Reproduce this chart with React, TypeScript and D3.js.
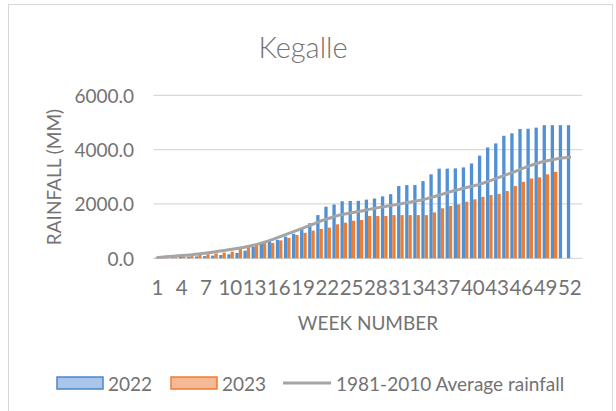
import React, { useEffect, useRef } from "react";
import * as d3 from "d3";

// week categories (Excel keeps an empty 53rd slot)
const weeks = [
  1, 2, 3, 4, 5, 6, 7, 8, 9, 10, 11, 12, 13, 14, 15, 16, 17, 18, 19, 20, 21, 22, 23, 24, 25, 26,
  27, 28, 29, 30, 31, 32, 33, 34, 35, 36, 37, 38, 39, 40, 41, 42, 43, 44, 45, 46, 47, 48, 49, 50,
  51, 52, 53,
];

// cumulative rainfall (mm), 2022
const rain2022 = [
  20, 30, 40, 50, 60, 70, 80, 100, 120, 150, 200, 280, 420, 540, 650, 680, 800, 900, 1070, 1290,
  1590, 1900, 1980, 2100, 2110, 2115, 2160, 2200, 2280, 2360, 2660, 2695, 2695, 2840, 3090, 3300,
  3300, 3310, 3345, 3490, 3780, 4080, 4230, 4510, 4600, 4760, 4770, 4810, 4900, 4900, 4900, 4900,
];

// cumulative rainfall (mm), 2023 (up to week 50)
const rain2023 = [
  10, 20, 40, 60, 80, 120, 150, 180, 210, 245, 370, 430, 520, 560, 570, 660, 750, 860, 940, 1020,
  1080, 1130, 1250, 1310, 1380, 1410, 1555, 1555, 1555, 1590, 1590, 1590, 1590, 1590, 1690, 1840,
  1925, 1985, 2080, 2170, 2260, 2330, 2365, 2475, 2660, 2815, 2940, 2980, 3090, 3185,
];

// 1981-2010 average, cumulative
const avgRainfall = [
  30, 55, 80, 100, 125, 160, 195, 235, 280, 320, 370, 425, 490, 575, 670, 780, 890, 1000, 1110,
  1230, 1350, 1450, 1550, 1620, 1680, 1730, 1790, 1850, 1900, 1950, 2000, 2060, 2110, 2170, 2250,
  2340, 2430, 2510, 2590, 2660, 2740, 2840, 2950, 3060, 3170, 3290, 3400, 3500, 3580, 3640, 3690,
  3720,
];

const yTicks = [0, 2000, 4000, 6000];
const xTickWeeks = [1, 4, 7, 10, 13, 16, 19, 22, 25, 28, 31, 34, 37, 40, 43, 46, 49, 52];

const FONT = "Lato, 'Open Sans', sans-serif";
const TEXT = "#737373";

const App = () => {
  const svgRef = useRef<SVGSVGElement | null>(null);

  useEffect(() => {
    const width = 616;
    const height = 411;

    const svg = d3.select(svgRef.current);
    svg.selectAll("*").remove();
    svg.attr("width", width).attr("height", height);

    svg.append("rect").attr("width", width).attr("height", height).attr("fill", "#fff");

    // chart frame
    svg
      .append("rect")
      .attr("x", 8.5)
      .attr("y", 4.5)
      .attr("width", 604)
      .attr("height", 420)
      .attr("fill", "none")
      .attr("stroke", "#d9d9d9")
      .attr("stroke-width", 1);

    const x = d3.scaleBand<number>().domain(weeks).range([153.5, 582]).padding(0);
    const y = d3.scaleLinear().domain([0, 6000]).range([258.3, 95.3]);
    const bw = 3.3;

    // title
    svg
      .append("text")
      .attr("x", 303)
      .attr("y", 46)
      .attr("text-anchor", "middle")
      .attr("dominant-baseline", "central")
      .attr("font-family", FONT)
      .attr("font-size", 29)
      .attr("font-weight", 300)
      .attr("fill", TEXT)
      .text("Kegalle");

    // gridlines + y labels
    yTicks.forEach((t) => {
      svg
        .append("line")
        .attr("x1", 153.5)
        .attr("x2", 582)
        .attr("y1", y(t))
        .attr("y2", y(t))
        .attr("stroke", "#d9d9d9")
        .attr("stroke-width", 1.3);
      svg
        .append("text")
        .attr("x", 134)
        .attr("y", y(t))
        .attr("text-anchor", "end")
        .attr("dominant-baseline", "central")
        .attr("font-family", FONT)
        .attr("font-size", 19)
        .attr("fill", TEXT)
        .text(t.toFixed(1));
    });

    // bars 2022
    svg
      .append("g")
      .selectAll("rect")
      .data(rain2022)
      .join("rect")
      .attr("x", (d, i) => (x(weeks[i]) as number) + x.bandwidth() / 2 - bw + 0.3)
      .attr("y", (d) => y(d))
      .attr("width", bw)
      .attr("height", (d) => y(0) - y(d))
      .attr("fill", "#5090d3");

    // bars 2023
    svg
      .append("g")
      .selectAll("rect")
      .data(rain2023)
      .join("rect")
      .attr("x", (d, i) => (x(weeks[i]) as number) + x.bandwidth() / 2 + 0.3)
      .attr("y", (d) => y(d))
      .attr("width", bw)
      .attr("height", (d) => y(0) - y(d))
      .attr("fill", "#ed7d31");

    // average line
    const line = d3
      .line<number>()
      .x((d, i) => (x(weeks[i]) as number) + x.bandwidth() / 2)
      .y((d) => y(d))
      .curve(d3.curveMonotoneX);

    svg
      .append("path")
      .datum(avgRainfall)
      .attr("d", line)
      .attr("fill", "none")
      .attr("stroke", "#a5a5a5")
      .attr("stroke-width", 3)
      .attr("stroke-linejoin", "round")
      .attr("stroke-linecap", "round");

    // x tick labels
    xTickWeeks.forEach((w) => {
      svg
        .append("text")
        .attr("x", (x(w) as number) + x.bandwidth() / 2)
        .attr("y", 287)
        .attr("text-anchor", "middle")
        .attr("dominant-baseline", "central")
        .attr("font-family", FONT)
        .attr("font-size", 20.5)
        .attr("fill", TEXT)
        .text(String(w));
    });

    // axis titles
    svg
      .append("text")
      .attr("x", 368)
      .attr("y", 322)
      .attr("text-anchor", "middle")
      .attr("dominant-baseline", "central")
      .attr("font-family", FONT)
      .attr("font-size", 19)
      .attr("fill", TEXT)
      .text("WEEK NUMBER");

    svg
      .append("text")
      .attr("transform", "translate(53,177) rotate(-90)")
      .attr("text-anchor", "middle")
      .attr("dominant-baseline", "central")
      .attr("font-family", FONT)
      .attr("font-size", 19)
      .attr("fill", TEXT)
      .text("RAINFALL (MM)");

    // legend
    const ly = 383;
    const legendText = (lx: number, label: string) =>
      svg
        .append("text")
        .attr("x", lx)
        .attr("y", ly)
        .attr("dominant-baseline", "central")
        .attr("font-family", FONT)
        .attr("font-size", 19)
        .attr("fill", TEXT)
        .text(label);

    svg
      .append("rect")
      .attr("x", 57)
      .attr("y", ly - 6)
      .attr("width", 46)
      .attr("height", 12)
      .attr("fill", "#a9c6ea")
      .attr("stroke", "#4a86c8")
      .attr("stroke-width", 1.5);
    legendText(108, "2022");

    svg
      .append("rect")
      .attr("x", 171)
      .attr("y", ly - 6)
      .attr("width", 46)
      .attr("height", 12)
      .attr("fill", "#f6b995")
      .attr("stroke", "#ed7d31")
      .attr("stroke-width", 1.5);
    legendText(222, "2023");

    svg
      .append("line")
      .attr("x1", 283)
      .attr("x2", 331)
      .attr("y1", ly)
      .attr("y2", ly)
      .attr("stroke", "#a5a5a5")
      .attr("stroke-width", 3);
    legendText(336, "1981-2010 Average rainfall");
  }, []);

  return (
    <svg
      ref={svgRef}
      style={{ position: "absolute", left: 0, top: 0, display: "block" }}
    ></svg>
  );
};

export default App;
